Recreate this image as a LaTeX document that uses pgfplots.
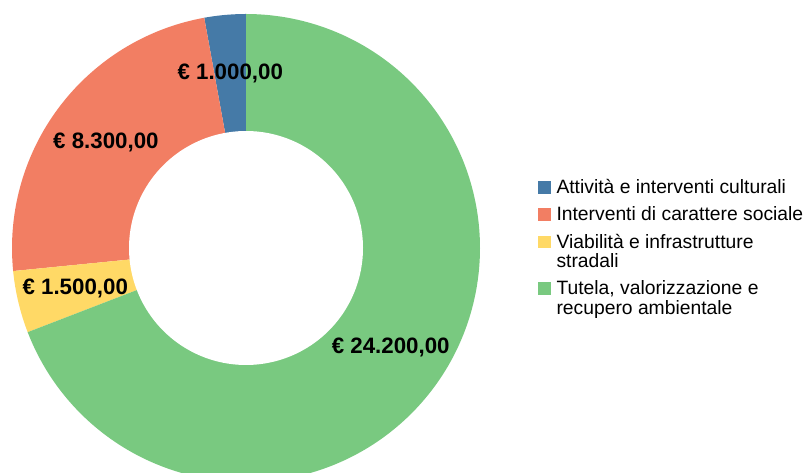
\documentclass[border=0pt]{standalone}
\usepackage{pgfplots}
\pgfplotsset{compat=1.18}
\usepackage{fontspec}
\setmainfont{Liberation Sans}
\definecolor{cblue}{RGB}{69,122,167}
\definecolor{cred}{RGB}{242,126,99}
\definecolor{cyellow}{RGB}{255,217,102}
\definecolor{cgreen}{RGB}{121,201,128}
\newcommand{\twoline}[2]{\vtop{\hbox{#1}\hbox{#2}}}
\begin{document}
\begin{tikzpicture}
% data in thousands of euro: 1000, 8300, 1500, 24200
\def\vA{1.0}
\def\vB{8.3}
\def\vC{1.5}
\def\vD{24.2}
\pgfmathsetmacro{\tot}{\vA+\vB+\vC+\vD}
\pgfmathsetmacro{\aA}{90}
\pgfmathsetmacro{\aB}{\aA+360*\vA/\tot}
\pgfmathsetmacro{\aC}{\aB+360*\vB/\tot}
\pgfmathsetmacro{\aD}{\aC+360*\vC/\tot}
\pgfmathsetmacro{\aE}{\aD+360*\vD/\tot}
\def\R{234}
\def\r{117}
\pgfmathsetmacro{\rmid}{(\R+\r)/2}
\begin{axis}[
  width=806bp, height=473bp, scale only axis,
  xmin=-246, xmax=560, ymin=-225, ymax=248,
  hide axis,
  legend style={draw=none, fill=none, inner sep=0pt, outer sep=0pt,
    at={(rel axis cs:0.6675,0.620)}, anchor=north west,
    font=\fontsize{19.3bp}{19.5bp}\selectfont,
    row sep=9bp, column sep=6bp,
    nodes={inner sep=0pt},
    cells={anchor=base west}},
  legend image code/.code={\fill[#1] (0bp,0bp) rectangle (12.5bp,12.5bp);\path (0bp,-4bp);},
  twol/.style={legend image code/.code={\fill[##1] (0bp,0bp) rectangle (12.5bp,12.5bp);\path (0bp,-23.5bp);}},
]
\addplot[fill=cblue, draw=none, domain=\aA:\aB, samples=20, variable=\t]
  ({\R*cos(\t)},{\R*sin(\t)}) -- (axis cs:0,0) -- cycle;
\addlegendentry{Attività e interventi culturali}
\addplot[fill=cred, draw=none, domain=\aB:\aC, samples=80, variable=\t]
  ({\R*cos(\t)},{\R*sin(\t)}) -- (axis cs:0,0) -- cycle;
\addlegendentry{Interventi di carattere sociale}
\addplot[fill=cyellow, draw=none, domain=\aC:\aD, samples=20, variable=\t, twol]
  ({\R*cos(\t)},{\R*sin(\t)}) -- (axis cs:0,0) -- cycle;
\addlegendentry{\twoline{Viabilità e infrastrutture}{stradali}}
\addplot[fill=cgreen, draw=none, domain=\aD:\aE, samples=200, variable=\t, twol]
  ({\R*cos(\t)},{\R*sin(\t)}) -- (axis cs:0,0) -- cycle;
\addlegendentry{\twoline{Tutela, valorizzazione e}{recupero ambientale}}
\addplot[fill=white, draw=none, domain=0:360, samples=200, variable=\t, forget plot]
  ({\r*cos(\t)},{\r*sin(\t)}) -- cycle;
\pgfmathsetmacro{\mA}{(\aA+\aB)/2}
\pgfmathsetmacro{\mB}{(\aB+\aC)/2}
\pgfmathsetmacro{\mC}{(\aC+\aD)/2}
\pgfmathsetmacro{\mD}{(\aD+\aE)/2}
\tikzset{lab/.style={font=\bfseries\fontsize{22.3bp}{24bp}\selectfont, inner sep=0pt}}
\node[lab] at (axis cs:{\rmid*cos(\mA)},{\rmid*sin(\mA)}) {€ 1.000,00};
\node[lab] at (axis cs:{\rmid*cos(\mB)},{\rmid*sin(\mB)}) {€ 8.300,00};
\node[lab] at (axis cs:{\rmid*cos(\mC)},{\rmid*sin(\mC)}) {€ 1.500,00};
\node[lab] at (axis cs:{\rmid*cos(\mD)},{\rmid*sin(\mD)}) {€ 24.200,00};
\end{axis}
\pgfresetboundingbox
\path[use as bounding box] (current axis.south west) rectangle (current axis.north east);
\end{tikzpicture}
\end{document}
